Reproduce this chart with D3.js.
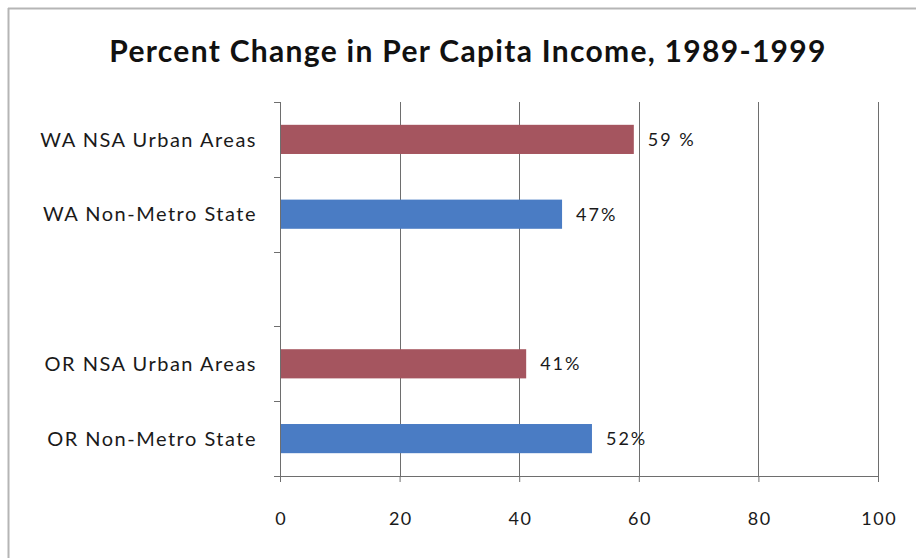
<!DOCTYPE html>
<html>
<head>
<meta charset="utf-8">
<script src="https://cdn.jsdelivr.net/npm/d3@7"></script>
<style>
  html, body { margin: 0; padding: 0; background: #fff; }
  svg { display: block; }
  text { font-family: Lato, "Open Sans", sans-serif; }
</style>
</head>
<body>
<svg id="chart" width="916" height="558"></svg>
<script>
// Category rows, top to bottom (an empty row separates the two states)
const categories = ["WA NSA Urban Areas", "WA Non-Metro State", "", "OR NSA Urban Areas", "OR Non-Metro State"];
// Percent change per row (null = spacer row)
const values = [59, 47, null, 41, 52];
// Row type decides the bar colour
const kinds = ["urban", "nonmetro", null, "urban", "nonmetro"];
// Printed value labels
const valueLabels = ["59 %", "47%", "", "41%", "52%"];
const xTicks = [0, 20, 40, 60, 80, 100];
const title = "Percent Change in Per Capita Income, 1989-1999";

const colors = { urban: "#a5555f", nonmetro: "#4a7cc4" };

const svg = d3.select("#chart");
const W = 916, H = 558;
const margin = { left: 280, right: 38, top: 102, bottom: 82 };

// outer chart frame (top and left edges)
svg.append("line").attr("x1", 8).attr("x2", W).attr("y1", 8.5).attr("y2", 8.5)
  .attr("stroke", "#b5b5b5").attr("stroke-width", 2);
svg.append("line").attr("x1", 8.5).attr("x2", 8.5).attr("y1", 8).attr("y2", H)
  .attr("stroke", "#b5b5b5").attr("stroke-width", 2);

const x = d3.scaleLinear().domain([0, 100]).range([margin.left, W - margin.right]);
const y = d3.scaleBand().domain(d3.range(categories.length))
  .range([margin.top, H - margin.bottom]).paddingInner(0.61).paddingOuter(0.305);

// vertical gridlines
svg.append("g").selectAll("line").data(xTicks.slice(1)).join("line")
  .attr("x1", d => Math.round(x(d)) + 0.5).attr("x2", d => Math.round(x(d)) + 0.5)
  .attr("y1", margin.top).attr("y2", H - margin.bottom)
  .attr("stroke", "#6e6e6e").attr("stroke-width", 1);

// bars
const rows = d3.range(categories.length).filter(i => values[i] != null);
svg.append("g").selectAll("rect").data(rows).join("rect")
  .attr("x", x(0) + 1)
  .attr("y", i => y(i))
  .attr("width", i => x(values[i]) - x(0))
  .attr("height", y.bandwidth())
  .attr("fill", i => colors[kinds[i]]);

// value labels
svg.append("g").selectAll("text").data(rows).join("text")
  .attr("x", i => x(values[i]) + 15)
  .attr("y", i => y(i) + y.bandwidth() / 2)
  .attr("dy", "0.36em")
  .attr("font-size", 18)
  .attr("letter-spacing", 2)
  .attr("fill", "#1a1a1a")
  .text(i => valueLabels[i]);

// x axis
const xAxis = svg.append("g")
  .attr("transform", `translate(0,${H - margin.bottom})`)
  .call(d3.axisBottom(x).tickValues(xTicks).tickSize(6).tickPadding(30));
xAxis.select(".domain").attr("stroke", "#6e6e6e").attr("d", `M${x(0)},0.5H${x(100)}`);
xAxis.selectAll(".tick line").attr("stroke", "#6e6e6e");
xAxis.selectAll(".tick text").attr("font-size", 18).attr("fill", "#1a1a1a")
  .attr("letter-spacing", 1.5).attr("dx", 0.75)
  .attr("font-family", "Lato, sans-serif");

// y axis with category boundary ticks
const yAxisG = svg.append("g");
yAxisG.append("line").attr("x1", x(0) + 0.5).attr("x2", x(0) + 0.5)
  .attr("y1", margin.top).attr("y2", H - margin.bottom).attr("stroke", "#6e6e6e");
const bounds = d3.range(categories.length + 1).map(i => margin.top + i * (H - margin.top - margin.bottom) / categories.length);
yAxisG.selectAll(".yt").data(bounds).join("line")
  .attr("x1", x(0) - 6).attr("x2", x(0))
  .attr("y1", d => Math.round(d) + 0.5).attr("y2", d => Math.round(d) + 0.5)
  .attr("stroke", "#6e6e6e");
yAxisG.selectAll("text").data(rows).join("text")
  .attr("x", 257)
  .attr("y", i => y(i) + y.bandwidth() / 2)
  .attr("dy", "0.36em")
  .attr("text-anchor", "end")
  .attr("font-size", 20)
  .attr("letter-spacing", 1.5)
  .attr("fill", "#1a1a1a")
  .text(i => categories[i]);

// title
svg.append("text")
  .attr("x", 468).attr("y", 62)
  .attr("text-anchor", "middle")
  .attr("font-size", 30).attr("font-weight", "bold")
  .attr("letter-spacing", 1.3)
  .attr("fill", "#111")
  .text(title);
</script>
</body>
</html>
